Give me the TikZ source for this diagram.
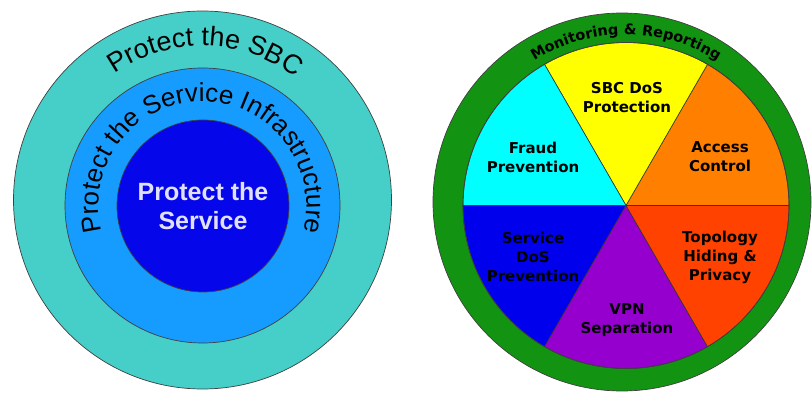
\documentclass[tikz,border=0pt]{standalone}
\usepackage{fontspec}
\setmainfont{Liberation Sans}
\newfontfamily\heavyfont{DejaVu Sans}
\usepackage{tikz}
\usetikzlibrary{decorations.text}

\definecolor{sbcring}{RGB}{70,206,200}
\definecolor{infraring}{RGB}{22,156,254}
\definecolor{servcore}{RGB}{6,6,234}
\definecolor{monring}{RGB}{18,148,18}
\definecolor{waccess}{RGB}{255,128,0}
\definecolor{wsbc}{RGB}{255,255,0}
\definecolor{wfraud}{RGB}{0,255,255}
\definecolor{wsdos}{RGB}{0,0,236}
\definecolor{wvpn}{RGB}{150,0,206}
\definecolor{wtopo}{RGB}{255,66,0}

\begin{document}
\begin{tikzpicture}[
      x=1pt, y=1pt,
      ring/.style={draw=black!75, line width=0.7pt},
      wedge/.style={draw=black!80, line width=0.6pt},
      corelbl/.style={font=\fontsize{25}{29}\selectfont\bfseries,
                      text=white!88!blue, align=center},
      lbl/.style={font=\heavyfont\bfseries\fontsize{15}{19}\selectfont,
                  text=black, align=center},
  ]
  \useasboundingbox (0,0) rectangle (812,394);

  % Left: protection layers
  \coordinate (lc) at (202.5,194);
  \coordinate (mc) at (202.5,188.5);
  \coordinate (ic) at (203,188);
  \draw[ring, fill=sbcring]   (lc) circle[radius=189];
  \draw[ring, fill=infraring] (mc) circle[radius=137.5];
  \draw[ring, fill=servcore]  (ic) circle[radius=86];

  \path[decorate, decoration={text along path, text align=center,
        text={|\fontsize{27}{31}\selectfont|Protect the SBC}}]
    ([shift={(124:154)}]lc) arc[start angle=124, end angle=54, radius=154];
  \path[decorate, decoration={text along path, text align=center,
        text={|\fontsize{26}{30}\selectfont|Protect the Service Infrastructure}}]
    ([shift={(215:104)}]mc) arc[start angle=215, end angle=-35, radius=104];
  \node[corelbl] (core) at (203,188) {Protect the\\Service};

  % Right: security functions
  \coordinate (gc) at (622,192);
  \coordinate (pc) at (626,188.5);
  \draw[ring, fill=monring] (gc) circle[radius=189];
  \foreach \a/\col in {0/waccess, 60/wsbc, 120/wfraud, 180/wsdos, 240/wvpn, 300/wtopo}
    \filldraw[wedge, fill=\col] (pc) -- ([shift={(\a:163)}]pc)
      arc[start angle=\a, end angle=\a+60, radius=163] -- cycle;
  \draw[ring] (pc) circle[radius=163];

  \path[decorate, decoration={text along path, text align=center,
        text={|\heavyfont\bfseries\fontsize{14.5}{17}\selectfont|Monitoring {\&} Reporting}}]
    ([shift={(140:171)}]pc) arc[start angle=140, end angle=40, radius=171];

  \node[lbl] (sbcdos) at (627,296) {SBC DoS\\Protection};
  \node[lbl] (fraud)  at (533,237) {Fraud\\Prevention};
  \node[lbl] (access) at (720,237) {Access\\Control};
  \node[lbl] (sdos)   at (533,137) {Service\\DoS\\Prevention};
  \node[lbl] (topo)   at (720,137) {Topology\\Hiding \&\\Privacy};
  \node[lbl] (vpn)    at (627,74)  {VPN\\Separation};

\end{tikzpicture}
\end{document}
